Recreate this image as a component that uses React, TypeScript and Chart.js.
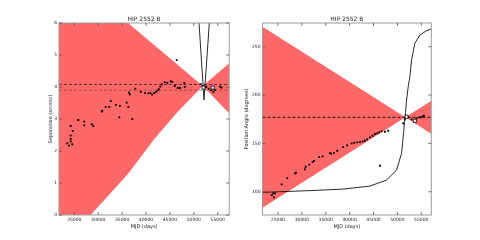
import React, { useEffect, useRef } from "react";
import { Chart, registerables } from "chart.js";

Chart.register(...registerables);

const TITLE = "HIP 2552 B";
const X_LABEL = "MJD (days)";
const SEP_LABEL = "Separation (arcsec)";
const PA_LABEL = "Position Angle (degrees)";

const xTicks = [25000, 30000, 35000, 40000, 45000, 50000, 55000];
const sepTicks = [0, 1, 2, 3, 4, 5, 6];
const paTicks = [100, 150, 200, 250];

// Separation measurements
const sepMjd = [
  23540, 23890, 24250, 24250, 24250, 24250, 24670, 24580, 25840, 27090,
  27090, 28640, 28980, 30730, 30860, 31570, 32320, 32620, 33730, 34420,
  34560, 35960, 36300, 36440, 36650, 37140, 37760, 38890, 39790, 40480,
  40900, 41260, 41670, 42090, 42360, 42660, 42990, 43290, 43910, 44460,
  45170, 45500, 46000, 46420, 46630, 47110, 48010, 48100, 51440, 51860,
  52130, 52600, 53100, 53660, 54080, 54400, 55480, 55840,
];
const sepVal = [
  2.24, 2.17, 2.38, 2.3, 2.48, 2.78, 2.63, 2.21, 2.97, 2.92,
  2.8, 2.84, 2.78, 3.23, 3.26, 3.38, 3.38, 3.56, 3.44, 3.05,
  3.41, 3.51, 3.38, 3.82, 3.77, 3.0, 3.95, 3.85, 3.81, 3.8,
  3.81, 3.76, 3.81, 3.85, 3.87, 3.93, 4.01, 4.08, 4.15, 4.13,
  4.18, 4.16, 4.03, 4.84, 3.97, 3.97, 4.13, 4.0, 4.09, 4.03,
  3.98, 4.0, 3.95, 3.9, 3.85, 3.9, 4.01, 3.98,
];
const sepRecentMjd = [52020, 53950];
const sepRecentVal = [3.98, 3.98];

// Separation prediction band (two crossing edges)
const sepBandMjd = [21800, 28430, 36300, 41700, 46500, 51860, 57400];
const sepBandEdgeA = [7.82, 6.98, 5.99, 5.31, 4.71, 4.03, 3.18];
const sepBandEdgeB = [-1.35, 0.0, 1.3, 2.37, 3.2, 4.03, 4.74];
const sepRefHigh = 4.08;
const sepRefLow = 3.9;
const sepModelMjd = [50870, 52130, 53470];
const sepModelVal = [6.5, 3.6, 6.5];

// Position angle measurements
const paMjd = [
  23680, 24010, 24160, 24370, 25770, 26940, 28550, 28760, 30640, 30790,
  31540, 32250, 32520, 33630, 34340, 35870, 36140, 36710, 37400, 38650,
  39490, 40410, 40960, 41580, 42150, 42710, 43190, 43670, 44240, 44800,
  45290, 45770, 46190, 46690, 47380, 48070, 46330, 51210, 51560, 52250,
  52960, 54010, 54700, 55180, 55540,
];
const paVal = [
  96.6, 98.3, 94.2, 98.3, 107.7, 114.2, 119.0, 119.7, 123.2, 125.9,
  128.0, 131.0, 131.8, 135.9, 136.6, 140.0, 139.3, 140.3, 142.4, 146.2,
  148.0, 150.0, 150.7, 151.1, 151.4, 152.1, 152.8, 154.2, 156.3, 157.9,
  159.7, 160.4, 161.4, 162.5, 162.1, 163.1, 126.9, 170.8, 174.9, 177.0,
  174.9, 175.9, 177.0, 177.6, 178.6,
];
const paRecentMjd = [51920, 53650];
const paRecentVal = [177.6, 173.4];

const paBandMjd = [21750, 51670, 57100];
const paBandEdgeA = [270.5, 177.0, 160.0];
const paBandEdgeB = [83.5, 177.0, 194.0];
const paRef = 177;
const paModelMjd = [21750, 31690, 38660, 44240, 47730, 49820, 50870, 51350, 51710, 51920, 52300, 52610, 52960, 53650, 54700, 56100, 57100];
const paModelVal = [99.4, 101.2, 102.8, 105.9, 112.1, 122.4, 139.7, 163.8, 182, 195, 210, 219, 236, 253.5, 262, 266.5, 268.3];

const FONT = "'DejaVu Sans', sans-serif";
const TEXT = "#1a1a1a";
const RED = "rgb(255,104,104)";

const xy = (xs: number[], ys: number[]) => xs.map((x, i) => ({ x, y: ys[i] }));

const framePlugin = {
  id: "frame",
  afterDatasetsDraw(chart: any) {
    const { ctx, chartArea: a, scales } = chart;
    ctx.save();
    ctx.strokeStyle = "#9a9a9a";
    ctx.lineWidth = 1;
    ctx.strokeRect(a.left, a.top, a.right - a.left, a.bottom - a.top);
    ctx.strokeStyle = "#555";
    ctx.lineWidth = 0.8;
    const seg = (x1: number, y1: number, x2: number, y2: number) => {
      ctx.beginPath();
      ctx.moveTo(x1, y1);
      ctx.lineTo(x2, y2);
      ctx.stroke();
    };
    scales.x.ticks.forEach((t: any) => {
      const p = scales.x.getPixelForValue(t.value);
      seg(p, a.bottom, p, a.bottom - 3);
      seg(p, a.top, p, a.top + 3);
    });
    scales.y.ticks.forEach((t: any) => {
      const p = scales.y.getPixelForValue(t.value);
      seg(a.left, p, a.left + 3, p);
      seg(a.right, p, a.right - 3, p);
    });
    ctx.restore();
  },
};

function xScale(min: number, max: number) {
  return {
    type: "linear",
    min,
    max,
    grid: { display: false, drawTicks: false },
    border: { display: false },
    afterBuildTicks: (s: any) => {
      s.ticks = xTicks.map((v) => ({ value: v }));
    },
    afterFit: (s: any) => {
      s.height = 14.7;
    },
    ticks: {
      color: TEXT,
      font: { family: FONT, size: 4.5 },
      padding: 2.5,
      maxRotation: 0,
      autoSkip: false,
      callback: (v: any) => String(v),
    },
    title: {
      display: true,
      text: X_LABEL,
      color: TEXT,
      font: { family: FONT, size: 5 },
      padding: { top: 0, bottom: 0 },
    },
  };
}

function yScale(min: number, max: number, ticks: number[], label: string, width: number, titleOffset: number) {
  return {
    type: "linear",
    min,
    max,
    grid: { display: false, drawTicks: false },
    border: { display: false },
    afterBuildTicks: (s: any) => {
      s.ticks = ticks.map((v) => ({ value: v }));
    },
    afterFit: (s: any) => {
      s.width = width;
    },
    ticks: {
      color: TEXT,
      font: { family: FONT, size: 4.5 },
      padding: 2,
      autoSkip: false,
      callback: (v: any) => String(v),
    },
    title: {
      display: true,
      text: label,
      color: TEXT,
      font: { family: FONT, size: 5 },
      padding: { top: titleOffset, bottom: 0 },
    },
  };
}

function baseOptions(rightPad: number) {
  return {
    responsive: false,
    animation: false,
    layout: { padding: { left: 0, right: rightPad, top: 0, bottom: 10.3 } },
    plugins: {
      legend: { display: false },
      tooltip: { enabled: false },
      title: {
        display: true,
        text: TITLE,
        fullSize: false,
        color: TEXT,
        font: { family: FONT, size: 6, weight: "normal" },
        padding: { top: 15.6, bottom: 0.2 },
      },
    },
  };
}

const pointsDs = (data: any) => ({
  data,
  showLine: false,
  pointStyle: "rect",
  pointRadius: 1.3,
  pointBackgroundColor: "#000",
  pointBorderWidth: 0,
});
const recentDs = (data: any) => ({
  data,
  showLine: false,
  pointStyle: "rect",
  pointRadius: 2.2,
  pointBackgroundColor: "#fff",
  pointBorderColor: "#000",
  pointBorderWidth: 0.8,
});
const lineDs = (data: any, color: string, dash: number[], width = 1) => ({
  data,
  showLine: true,
  pointRadius: 0,
  borderColor: color,
  borderWidth: width,
  borderDash: dash,
  fill: false,
  tension: 0,
});
const bandDs = (data: any, fill: any) => ({
  data,
  showLine: true,
  pointRadius: 0,
  borderWidth: 0,
  borderColor: "rgba(0,0,0,0)",
  backgroundColor: RED,
  fill,
});

function leftConfig(): any {
  const xmin = 21800;
  const xmax = 57400;
  return {
    type: "scatter",
    data: {
      datasets: [
        recentDs(xy(sepRecentMjd, sepRecentVal)),
        pointsDs(xy(sepMjd, sepVal)),
        lineDs(xy(sepModelMjd, sepModelVal), "#111", [], 0.9),
        lineDs(xy([xmin, xmax], [sepRefHigh, sepRefHigh]), "#222", [3, 2], 0.8),
        lineDs(xy([xmin, xmax], [sepRefLow, sepRefLow]), "rgba(90,60,60,0.75)", [3, 2], 0.8),
        bandDs(xy(sepBandMjd, sepBandEdgeA), "+1"),
        bandDs(xy(sepBandMjd, sepBandEdgeB), false),
      ],
    },
    options: {
      ...baseOptions(10.8),
      scales: {
        x: xScale(xmin, xmax),
        y: yScale(0, 6, sepTicks, SEP_LABEL, 59, 47.7),
      },
    },
    plugins: [framePlugin],
  };
}

function rightConfig(): any {
  const xmin = 21750;
  const xmax = 57100;
  return {
    type: "scatter",
    data: {
      datasets: [
        recentDs(xy(paRecentMjd, paRecentVal)),
        pointsDs(xy(paMjd, paVal)),
        lineDs(xy(paModelMjd, paModelVal), "#111", [], 0.9),
        lineDs(xy([xmin, xmax], [paRef, paRef]), "#111", [3, 2], 1),
        bandDs(xy(paBandMjd, paBandEdgeA), "+1"),
        bandDs(xy(paBandMjd, paBandEdgeB), false),
      ],
    },
    options: {
      ...baseOptions(48.7),
      scales: {
        x: xScale(xmin, xmax),
        y: yScale(76, 274.5, paTicks, PA_LABEL, 22.5, 4),
      },
    },
    plugins: [framePlugin],
  };
}

export default function App() {
  const leftRef = useRef<HTMLCanvasElement>(null);
  const rightRef = useRef<HTMLCanvasElement>(null);
  useEffect(() => {
    const c1 = new Chart(leftRef.current as HTMLCanvasElement, leftConfig());
    const c2 = new Chart(rightRef.current as HTMLCanvasElement, rightConfig());
    return () => {
      c1.destroy();
      c2.destroy();
    };
  }, []);
  return (
    <div style={{ position: "fixed", left: 0, top: 0, width: 480, height: 240, background: "#fff" }}>
      <canvas ref={leftRef} width={240} height={240} style={{ position: "absolute", left: 0, top: 0, width: 240, height: 240 }} />
      <canvas ref={rightRef} width={240} height={240} style={{ position: "absolute", left: 240, top: 0, width: 240, height: 240 }} />
    </div>
  );
}
